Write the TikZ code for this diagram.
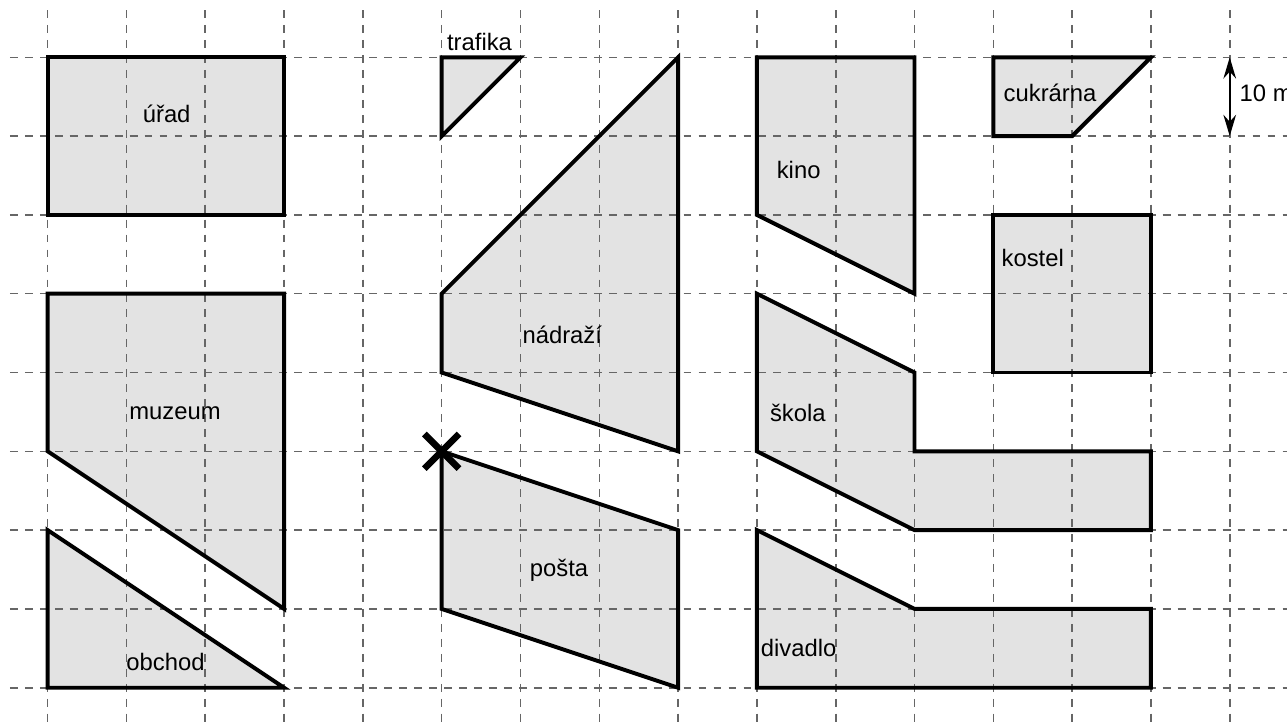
\documentclass[tikz,border=0pt]{standalone}
\usepackage{fontspec}
\setmainfont{Liberation Sans}
\usetikzlibrary{arrows.meta}
\tikzset {>={Stealth[length=2.7mm,width=1.6mm]}}
\definecolor{plotfill}{HTML}{E3E3E3}
\definecolor{gridgray}{HTML}{666666}
\tikzset{
  gridline/.style={draw=gridgray, line width=0.2mm, dash pattern=on 1mm off 0.9mm},
  plotedge/.style={draw=black, line width=0.5mm, line join=miter},
  plotname/.style={anchor=base, inner sep=0pt, font=\fontsize{8.6pt}{10pt}\selectfont}
}
% plots of the town, one path each
\newcommand\townplots{%
  {(0,6) rectangle (3,8)},
  {(5,8) -- (6,8) -- (5,7) -- cycle},
  {(8,8) -- (8,3) -- (5,4) -- (5,5) -- cycle},
  {(9,8) -- (11,8) -- (11,5) -- (9,6) -- cycle},
  {(12,8) -- (14,8) -- (13,7) -- (12,7) -- cycle},
  {(12,4) rectangle (14,6)},
  {(0,5) -- (3,5) -- (3,1) -- (0,3) -- cycle},
  {(0,2) -- (0,0) -- (3,0) -- cycle},
  {(5,3) -- (8,2) -- (8,0) -- (5,1) -- cycle},
  {(9,5) -- (11,4) -- (11,3) -- (14,3) -- (14,2) -- (11,2) -- (9,3) -- cycle},
  {(9,2) -- (11,1) -- (14,1) -- (14,0) -- (9,0) -- cycle}}

\begin{document}
\begin{tikzpicture}
\useasboundingbox (-0.605,-0.461) rectangle (15.727,8.727);
\clip (-0.605,-0.461) rectangle (15.727,8.727);

\foreach \p in \townplots {\fill[plotfill] \p;}

% dashed grid
\foreach \i in {0,...,15} {\draw[gridline] (\i,8.6) -- (\i,-0.6);}
\foreach \j in {0,...,8} {\draw[gridline] (-0.48,\j) -- (15.8,\j);}

\foreach \p in \townplots {\path[plotedge] \p;}

\node[plotname] (urad) at (1.51,7.17) {úřad};
\node[plotname] (trafika) at (5.48,8.09) {trafika};
\node[plotname] (nadrazi) at (6.53,4.37) {nádraží};
\node[plotname] (kino) at (9.53,6.46) {kino};
\node[plotname] (cukrarna) at (12.72,7.44) {cukrárna};
\node[plotname] (kostel) at (12.50,5.34) {kostel};
\node[plotname] (muzeum) at (1.615,3.40) {muzeum};
\node[plotname] (skola) at (9.52,3.376) {škola};
\node[plotname] (obchod) at (1.495,0.216) {obchod};
\node[plotname] (posta) at (6.49,1.41) {pošta};
\node[plotname] (divadlo) at (9.53,0.39) {divadlo};

% scale
\coordinate (dimtop) at (15,8);
\coordinate (dimbot) at (15,7);
\draw[<->, line width=0.25mm] (dimtop) -- (dimbot);
\node[plotname, anchor=base west] (meter) at (15.12,7.44) {10 m};

% start mark
\coordinate (start) at (5,3);
\draw[line width=2.4pt] (start) ++(-0.22,-0.22) -- ++(0.44,0.44)
  (start) ++(-0.22,0.22) -- ++(0.44,-0.44);
\end{tikzpicture}
\end{document}
